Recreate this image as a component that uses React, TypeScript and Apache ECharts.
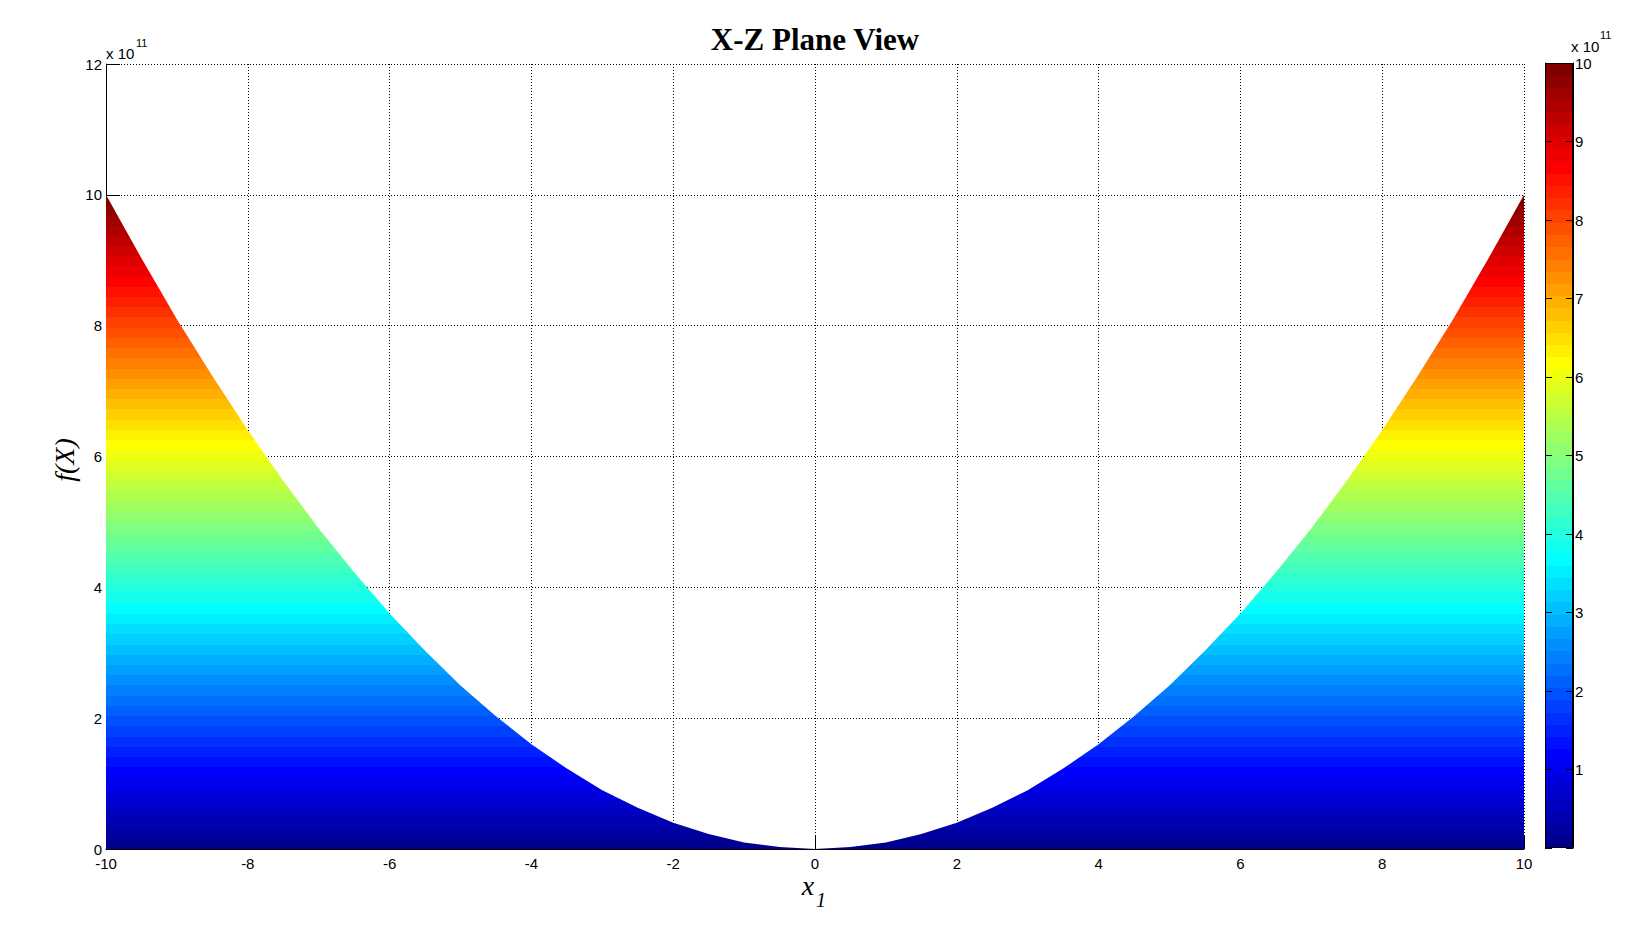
import React, { useEffect, useRef } from "react";
import * as echarts from "echarts";

// x1 sample positions and f(X) values (in units of 1e11)
const xValues = [
  -10, -9.5, -9, -8.5, -8, -7.5, -7, -6.5, -6, -5.5, -5, -4.5, -4, -3.5, -3, -2.5, -2, -1.5, -1, -0.5,
  0, 0.5, 1, 1.5, 2, 2.5, 3, 3.5, 4, 4.5, 5, 5.5, 6, 6.5, 7, 7.5, 8, 8.5, 9, 9.5, 10,
];
const fValues = [
  10.0, 9.03, 8.1, 7.23, 6.4, 5.63, 4.9, 4.23, 3.6, 3.03, 2.5, 2.03, 1.6, 1.23, 0.9, 0.63, 0.4, 0.23, 0.1, 0.03,
  0, 0.03, 0.1, 0.23, 0.4, 0.63, 0.9, 1.23, 1.6, 2.03, 2.5, 3.03, 3.6, 4.23, 4.9, 5.63, 6.4, 7.23, 8.1, 9.03, 10.0,
];
const colorbarRange = [0, 10];
const colorbarTop = [10];

// MATLAB jet(64) colormap
function jet(n: number): string[] {
  const q = n / 4;
  const u: number[] = [];
  for (let k = 1; k <= q; k++) u.push(k / q);
  for (let k = 1; k < q; k++) u.push(1);
  for (let k = q; k >= 1; k--) u.push(k / q);
  const gOff = Math.ceil(q / 2);
  const out: string[] = [];
  for (let i = 1; i <= n; i++) {
    const gi = i - gOff;
    const ri = gi - q;
    const bi = gi + q;
    const r = ri >= 1 && ri <= u.length ? u[ri - 1] : 0;
    const g = gi >= 1 && gi <= u.length ? u[gi - 1] : 0;
    const b = bi >= 1 && bi <= u.length ? u[bi - 1] : 0;
    out.push(`rgb(${Math.round(r * 255)},${Math.round(g * 255)},${Math.round(b * 255)})`);
  }
  return out;
}

function steppedGradient() {
  const cols = jet(64);
  const stops: { offset: number; color: string }[] = [];
  for (let k = 0; k < 64; k++) {
    const c = cols[63 - k];
    stops.push({ offset: k / 64, color: c });
    stops.push({ offset: (k + 1) / 64, color: c });
  }
  return new echarts.graphic.LinearGradient(0, 0, 0, 1, stops);
}

const serif = "'Liberation Serif', 'Times New Roman', serif";
const sans = "'Liberation Sans', Arial, sans-serif";

export default function App() {
  const ref = useRef<HTMLDivElement>(null);
  useEffect(() => {
    if (!ref.current) return;
    const chart = echarts.init(ref.current, undefined, { renderer: "svg" });
    const dotted = { color: "#000", width: 1, type: [1, 2] as any };
    const option: any = {
      animation: false,
      backgroundColor: "#fff",
      grid: [
        { left: 106, top: 64, width: 1418, height: 785 },
        { left: 1545, top: 63, width: 28, height: 785 },
      ],
      xAxis: [
        {
          type: "value",
          gridIndex: 0,
          min: -10,
          max: 10,
          interval: 2,
          axisLine: { show: true, onZero: false, lineStyle: { color: "#000", width: 1 } },
          axisTick: { show: true, inside: true, length: 14, lineStyle: { color: "#000" } },
          axisLabel: { color: "#000", fontFamily: sans, fontSize: 15, margin: 7 },
          splitLine: { show: true, lineStyle: dotted },
        },
        {
          type: "category",
          gridIndex: 1,
          data: ["cb"],
          show: false,
        },
      ],
      yAxis: [
        {
          type: "value",
          gridIndex: 0,
          min: 0,
          max: 12,
          interval: 2,
          axisLine: { show: true, onZero: false, lineStyle: { color: "#000", width: 1 } },
          axisTick: { show: true, inside: true, length: 14, lineStyle: { color: "#000" } },
          axisLabel: { color: "#000", fontFamily: sans, fontSize: 15, margin: 4 },
          splitLine: { show: true, lineStyle: dotted },
        },
        {
          type: "value",
          gridIndex: 1,
          position: "right",
          min: colorbarRange[0],
          max: colorbarRange[1],
          interval: 1,
          z: 10,
          axisLine: { show: true, onZero: false, lineStyle: { color: "#000", width: 1 } },
          axisTick: { show: true, inside: true, length: 7, lineStyle: { color: "#000" } },
          axisLabel: {
            color: "#000",
            fontFamily: sans,
            fontSize: 15,
            margin: 2,
            formatter: (v: number) => (v === 0 ? "" : String(v)),
          },
          splitLine: { show: false },
        },
        {
          type: "value",
          gridIndex: 1,
          position: "left",
          min: colorbarRange[0],
          max: colorbarRange[1],
          interval: 1,
          z: 10,
          axisLine: { show: true, onZero: false, lineStyle: { color: "#000", width: 1 } },
          axisTick: { show: true, inside: true, length: 7, lineStyle: { color: "#000" } },
          axisLabel: { show: false },
          splitLine: { show: false },
        },
      ],
      series: [
        {
          type: "line",
          xAxisIndex: 0,
          yAxisIndex: 0,
          data: xValues.map((x, i) => [x, fValues[i]]),
          symbol: "none",
          smooth: false,
          lineStyle: { width: 0 },
          areaStyle: { color: steppedGradient(), opacity: 1 },
          silent: true,
        },
        {
          type: "bar",
          xAxisIndex: 1,
          yAxisIndex: 1,
          data: colorbarTop,
          barWidth: "100%",
          itemStyle: { color: steppedGradient(), borderColor: "#000", borderWidth: 1 },
          silent: true,
        },
      ],
      graphic: [
        {
          type: "text",
          x: 815,
          y: 39,
          style: {
            text: "X-Z Plane View",
            font: `bold 31px ${serif}`,
            fill: "#000",
            align: "center",
            verticalAlign: "middle",
          },
        },
        {
          type: "text",
          x: 106,
          y: 53,
          style: { text: "x 10", font: `15px ${sans}`, fill: "#000", align: "left", verticalAlign: "middle" },
        },
        {
          type: "text",
          x: 136,
          y: 43,
          style: { text: "11", font: `11px ${sans}`, fill: "#000", align: "left", verticalAlign: "middle" },
        },
        {
          type: "text",
          x: 1571,
          y: 46,
          style: { text: "x 10", font: `15px ${sans}`, fill: "#000", align: "left", verticalAlign: "middle" },
        },
        {
          type: "text",
          x: 1600,
          y: 35,
          style: { text: "11", font: `11px ${sans}`, fill: "#000", align: "left", verticalAlign: "middle" },
        },
        {
          type: "text",
          x: 808,
          y: 885,
          style: { text: "x", font: `italic 28px ${serif}`, fill: "#000", align: "center", verticalAlign: "middle" },
        },
        {
          type: "text",
          x: 816,
          y: 900,
          style: { text: "1", font: `italic 20px ${serif}`, fill: "#000", align: "left", verticalAlign: "middle" },
        },
        {
          type: "text",
          x: 64,
          y: 460,
          rotation: Math.PI / 2,
          style: { text: "f(X)", font: `italic 28px ${serif}`, fill: "#000", align: "center", verticalAlign: "middle" },
        },
      ],
    };
    chart.setOption(option);
    return () => chart.dispose();
  }, []);
  return (
    <div
      ref={ref}
      style={{ position: "fixed", left: 0, top: 0, width: 1632, height: 945, background: "#fff" }}
    />
  );
}
